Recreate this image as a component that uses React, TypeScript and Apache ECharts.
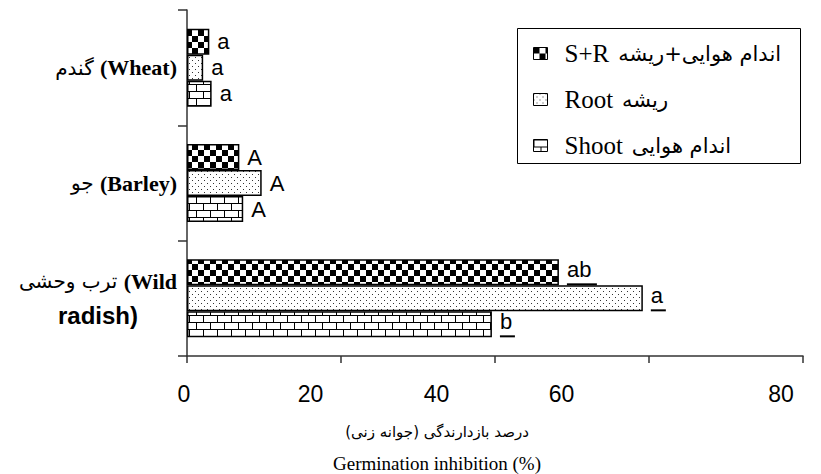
import React, { useEffect, useRef } from 'react';
import * as echarts from 'echarts';

// ---- data ----
const categories = ['Wild radish', 'Barley', 'Wheat'];
const categoryFa = ['ترب وحشی', 'جو', 'گندم'];
const seriesNames = ['S+R', 'Root', 'Shoot'];
const seriesFa = ['اندام هوایی+ریشه', 'ریشه', 'اندام هوایی'];
const srValues = [48.3, 6.8, 2.9];
const rootValues = [59.2, 9.7, 2.1];
const shootValues = [39.6, 7.3, 3.2];
const srLetters = ['ab', 'A', 'a'];
const rootLetters = ['a', 'A', 'a'];
const shootLetters = ['b', 'A', 'a'];
const underlined = [true, false, false];
const xTicks = [0, 20, 40, 60, 80];
const xTitleFa = 'درصد بازدارندگی (جوانه زنی)\u200F';
const xTitleEn = 'Germination inhibition (%)';

// label shift (style) so tick labels sit where the reference prints them
const xLabelPadRight: Record<number, number> = { 0: 6, 20: 61, 40: 117, 60: 175, 80: 44 };

function makePattern(kind: string) {
  const c = document.createElement('canvas');
  let w = 12, h = 12;
  if (kind === 'dots') { w = 6; h = 6; }
  if (kind === 'brick') { w = 14; h = 14; }
  c.width = w; c.height = h;
  const ctx = c.getContext('2d')!;
  ctx.fillStyle = '#fff';
  ctx.fillRect(0, 0, w, h);
  if (kind === 'checker') {
    ctx.fillStyle = '#000';
    ctx.fillRect(0, 0, 6, 6);
    ctx.fillRect(6, 6, 6, 6);
  } else if (kind === 'dots') {
    ctx.fillStyle = '#333';
    ctx.fillRect(0, 0, 1, 1);
    ctx.fillRect(3, 3, 1, 1);
  } else {
    ctx.strokeStyle = '#000';
    ctx.lineWidth = 1;
    ctx.beginPath();
    ctx.moveTo(0, 0.5); ctx.lineTo(w, 0.5);
    ctx.moveTo(0, 7.5); ctx.lineTo(w, 7.5);
    ctx.moveTo(0.5, 0); ctx.lineTo(0.5, 7);
    ctx.moveTo(7.5, 7); ctx.lineTo(7.5, 14);
    ctx.stroke();
  }
  return { image: c.toDataURL(), repeat: 'repeat', imageWidth: w, imageHeight: h };
}

const underlineW: Record<number, number> = { 1: 15, 2: 30 };

function barLabel(letters: string[]) {
  return {
    show: true,
    position: 'right',
    distance: 8,
    color: '#000',
    fontFamily: "'Liberation Sans', Arial, sans-serif",
    fontSize: 22,
    formatter: (p: any) => {
      const s = letters[p.dataIndex];
      return underlined[p.dataIndex] ? `{t|${s}}\n{u${s.length}|\u00a0}` : `{t|${s}}`;
    },
    rich: {
      t: { fontSize: 22, lineHeight: 24, color: '#000', fontFamily: "'Liberation Sans', Arial, sans-serif" },
      u1: { width: underlineW[1], height: 2, lineHeight: 5, fontSize: 1, backgroundColor: '#000' },
      u2: { width: underlineW[2], height: 2, lineHeight: 5, fontSize: 1, backgroundColor: '#000' },
    },
  };
}

export default function App() {
  const ref = useRef<HTMLDivElement>(null);
  useEffect(() => {
    if (!ref.current) return;
    const chart = echarts.init(ref.current, null, { renderer: 'svg' });
    const patterns = [makePattern('checker'), makePattern('dots'), makePattern('brick')];
    const values = [srValues, rootValues, shootValues];
    const letters = [srLetters, rootLetters, shootLetters];
    const axisColor = '#333';
    const option: any = {
      animation: false,
      backgroundColor: '#fff',
      grid: { left: 187, right: 18, top: 10, bottom: 118, containLabel: false },
      xAxis: {
        type: 'value',
        min: 0,
        max: 80,
        interval: 20,
        splitLine: { show: false },
        axisLine: { show: true, lineStyle: { color: axisColor, width: 1.5 } },
        axisTick: { show: true, length: 7, lineStyle: { color: axisColor, width: 1.5 } },
        axisLabel: {
          margin: 26,
          color: '#000',
          fontSize: 23,
          fontFamily: "'Liberation Sans', Arial, sans-serif",
          formatter: (v: number) => (xTicks.includes(v) ? `{l${v}|${v}}` : ''),
          rich: Object.fromEntries(
            xTicks.map((t) => [
              `l${t}`,
              { fontSize: 23, color: '#000', fontFamily: "'Liberation Sans', Arial, sans-serif", padding: [0, xLabelPadRight[t] || 0, 0, 0] },
            ])
          ),
        },
      },
      yAxis: {
        type: 'category',
        data: categories,
        axisLine: { show: true, lineStyle: { color: axisColor, width: 1.5 } },
        axisTick: { show: true, length: 9, lineStyle: { color: axisColor, width: 1.5 } },
        axisLabel: {
          interval: 0,
          margin: 10,
          color: '#000',
          formatter: (v: string) => {
            const idx = categories.indexOf(v);
            const fa = categoryFa[idx];
            const parts = v.split(' ');
            if (parts.length > 1) {
              return `{faC|${fa} }{enC|(${parts[0]}}\n{en2|${parts.slice(1).join(' ')})}`;
            }
            return `{fa|${fa} }{en|(${v})}`;
          },
          rich: {
            fa: { fontFamily: "'DejaVu Sans', sans-serif", fontSize: 20, color: '#000' },
            en: { fontFamily: "'Liberation Serif', 'Times New Roman', serif", fontWeight: 'bold', fontSize: 22, color: '#000' },
            faC: { align: 'center', lineHeight: 34, fontFamily: "'DejaVu Sans', sans-serif", fontSize: 20, color: '#000' },
            enC: { align: 'center', lineHeight: 34, fontFamily: "'Liberation Serif', 'Times New Roman', serif", fontWeight: 'bold', fontSize: 22, color: '#000' },
            en2: { align: 'center', lineHeight: 34, fontFamily: "'Liberation Sans', Arial, sans-serif", fontWeight: 'bold', fontSize: 24, color: '#000' },
          },
        },
      },
      legend: {
        orient: 'vertical',
        left: 533,
        top: 41,
        padding: 0,
        icon: 'rect',
        itemWidth: 14,
        itemHeight: 12,
        itemGap: 21,
        data: seriesNames,
        itemStyle: { borderColor: '#000', borderWidth: 1 },
        formatter: (name: string) => {
          const i = seriesNames.indexOf(name);
          return `{en|${name}}{fa|${seriesFa[i]}}`;
        },
        textStyle: {
          color: '#000',
          rich: {
            en: { fontFamily: "'Liberation Serif', 'Times New Roman', serif", fontSize: 25, lineHeight: 24, color: '#000', padding: [0, 9, 0, 12] },
            fa: { fontFamily: "'DejaVu Sans', sans-serif", fontSize: 21, lineHeight: 24, color: '#000' },
          },
        },
      },
      graphic: [
        {
          type: 'rect',
          shape: { x: 517.5, y: 28.5, width: 283, height: 135 },
          style: { fill: 'none', stroke: '#000', lineWidth: 1 },
          z: 10,
        },
        {
          type: 'text',
          x: 437,
          y: 432,
          style: { text: xTitleFa, fontSize: 15, fontFamily: "'DejaVu Sans', sans-serif", fill: '#000', align: 'center', verticalAlign: 'middle' },
        },
        {
          type: 'text',
          x: 437,
          y: 463,
          style: { text: xTitleEn, fontSize: 19, fontFamily: "'Liberation Serif', 'Times New Roman', serif", fill: '#000', align: 'center', verticalAlign: 'middle' },
        },
      ],
      series: seriesNames.map((name, k) => ({
        name,
        type: 'bar',
        data: values[k],
        barWidth: 26,
        barGap: '0%',
        itemStyle: { color: patterns[k], borderColor: '#000', borderWidth: 1.5 },
        label: barLabel(letters[k]),
      })),
    };
    chart.setOption(option);
    return () => chart.dispose();
  }, []);
  return <div ref={ref} style={{ position: 'fixed', left: 0, top: 0, width: 821, height: 474 }} />;
}
